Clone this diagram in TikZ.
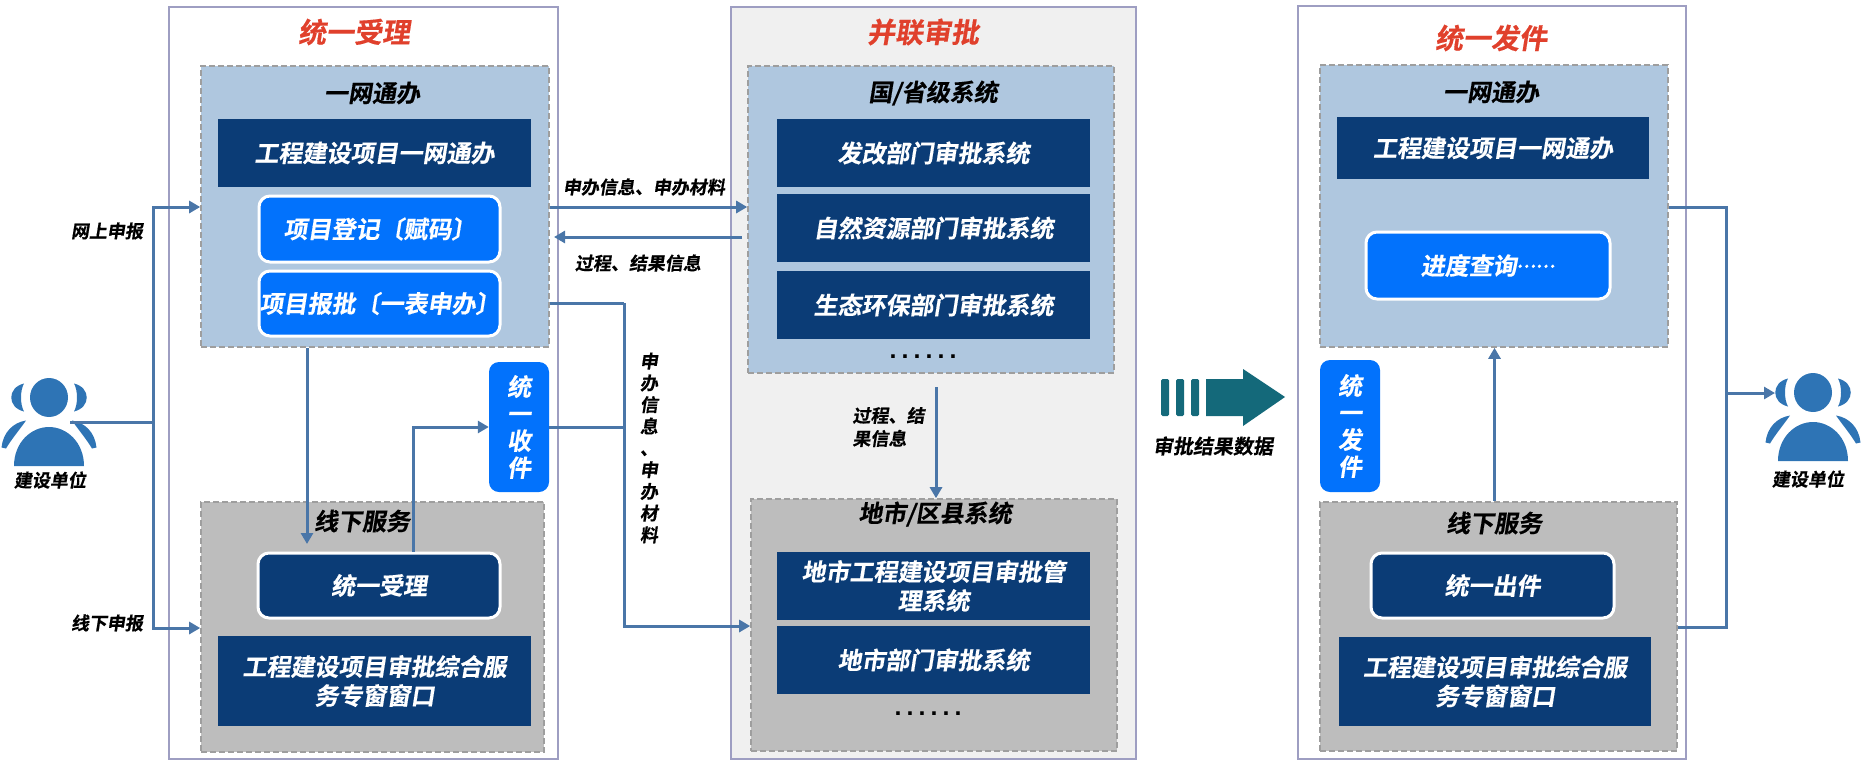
\documentclass[tikz,border=0pt]{standalone}
\usepackage{fontspec}
\usepackage{xcolor}
\setmainfont{Noto Sans CJK SC Bold}[FakeSlant=0.16,FakeBold=0.4]
\newfontfamily\dotfont{Liberation Sans}
\usetikzlibrary{arrows.meta}
\definecolor{titlered}{HTML}{E0402C}
\definecolor{navybox}{HTML}{0B3C76}
\definecolor{brightbox}{HTML}{0272FC}
\definecolor{panelblue}{HTML}{AFC7DF}
\definecolor{panelgrey}{HTML}{BDBDBD}
\definecolor{frameline}{HTML}{9E9EC2}
\definecolor{flowline}{HTML}{4A76A8}
\definecolor{userblue}{HTML}{2E74B5}
\definecolor{tealarrow}{HTML}{14697A}
\tikzset{
    basebox/.style={inner sep=0pt,align=center,text=white,font=\fontsize{24}{29}\selectfont},
    navy/.style={basebox,fill=navybox},
    navyround/.style={basebox,fill=navybox,draw=white,line width=3pt,rounded corners=11pt},
    brightround/.style={basebox,fill=brightbox,draw=white,line width=3pt,rounded corners=11pt},
    brightbar/.style={basebox,fill=brightbox,rounded corners=10pt,font=\fontsize{24}{27}\selectfont},
    frame/.style={draw=frameline,line width=2pt,inner sep=0pt},
    dashpanel/.style={draw=black!38,line width=1.6pt,dash pattern=on 6pt off 3pt,inner sep=0pt},
    headtext/.style={inner sep=0pt,font=\fontsize{24}{26}\selectfont},
    titletext/.style={inner sep=0pt,text=titlered,font=\fontsize{28}{30}\selectfont},
    smalltext/.style={inner sep=0pt,align=left,font=\fontsize{18}{23}\selectfont},
    resulttext/.style={inner sep=0pt,font=\fontsize{20}{23}\selectfont},
    dotstext/.style={inner sep=0pt,anchor=base,font=\dotfont\bfseries\fontsize{25}{26}\selectfont},
    flow/.style={draw=flowline,line width=3pt,-{Triangle[length=11pt,width=12pt]}},
    flowplain/.style={draw=flowline,line width=3pt},
    person/.pic={
        \fill[userblue] (0,0) ellipse (19 and 19.5);
        \foreach \s in {-1,1} {
            \fill[userblue] (\s*25,-14) .. controls (\s*42,-10) and (\s*42,10) .. (\s*25,14)
                .. controls (\s*29,7) and (\s*29,-7) .. (\s*25,-14);
            \fill[userblue] (\s*47.5,50) .. controls (\s*46,35) and (\s*36,25) .. (\s*23,23)
                .. controls (\s*30,33) and (\s*37,41) .. (\s*43,51) -- cycle;
        }
        \fill[userblue] (-35,68.5) .. controls (-35,45) and (-18,29.5) .. (0,29.5)
            .. controls (18,29.5) and (35,45) .. (35,68.5) -- cycle;
    }
}
\begin{document}
\begin{tikzpicture}[x=1pt,y=-1pt]
\useasboundingbox (0,0) rectangle (1864,764);
% Outer frames
\node[frame,minimum width=389pt,minimum height=752pt] (frameAccept) at (363.5,383) {};
\node[frame,fill=black!6,minimum width=405pt,minimum height=752pt] (frameApprove) at (933.5,383) {};
\node[frame,minimum width=388pt,minimum height=753pt] (frameIssue) at (1492,382.5) {};
\node[titletext] (titleAccept) at (354,32) {统一受理};
\node[titletext] (titleApprove) at (923,32) {并联审批};
\node[titletext] (titleIssue) at (1491,38) {统一发件};

% Dashed panels
\foreach \name/\col/\x/\y/\w/\h in {
    portalL/panelblue/375/206.5/348/281,
    counterL/panelgrey/372.5/627/343/250,
    stateP/panelblue/931/219.5/366/307,
    cityP/panelgrey/934/625/366/252,
    portalR/panelblue/1494/206/348/282,
    counterR/panelgrey/1498.5/626.5/357/249} {
    \node[dashpanel,fill=\col,minimum width=\w pt,minimum height=\h pt] (\name) at (\x,\y) {};
}

% Panel headings
\foreach \name/\x/\y/\txt in {
    headPortalL/372/93/一网通办,
    headCounterL/362/521/线下服务,
    headState/933/93/{国/省级系统},
    headCity/935/514/{地市/区县系统},
    headPortalR/1491/92/一网通办,
    headCounterR/1494/523/线下服务} {
    \node[headtext] (\name) at (\x,\y) {\txt};
}

% Square dark boxes
\foreach \name/\x/\y/\w/\h/\txt in {
    gcwbL/374.5/153/313/68/工程建设项目一网通办,
    windowL/374.5/681/313/90/工程建设项目审批综合服\\务专窗窗口,
    devDept/933.5/153/313/68/发改部门审批系统,
    natureDept/933.5/228/313/68/自然资源部门审批系统,
    ecoDept/933.5/305/313/68/生态环保部门审批系统,
    cityMain/933.5/586/313/68/地市工程建设项目审批管\\理系统,
    cityDept/933.5/660/313/68/地市部门审批系统,
    gcwbR/1493/148/312/62/工程建设项目一网通办,
    windowR/1495/681.5/312/89/工程建设项目审批综合服\\务专窗窗口} {
    \node[navy,minimum width=\w pt,minimum height=\h pt] (\name) at (\x,\y) {\txt};
}

% Rounded boxes
\node[brightround,minimum width=241pt,minimum height=66pt] (register) at (379.5,229) {项目登记〔赋码〕};
\node[brightround,minimum width=241pt,minimum height=65pt] (report) at (379.5,303.5) {项目报批〔一表申办〕};
\node[brightround,minimum width=244pt,minimum height=67pt] (query) at (1488,265.5) {进度查询\raisebox{7pt}{\fontsize{17.5}{18}\selectfont ……}};
\node[navyround,minimum width=242pt,minimum height=65pt] (accept) at (379,585.5) {统一受理};
\node[navyround,minimum width=243pt,minimum height=65pt] (issue) at (1492.5,585.5) {统一出件};
\node[brightbar,minimum width=60pt,minimum height=130pt] (receive) at (519,427) {统\\一\\收\\件};
\node[brightbar,minimum width=60pt,minimum height=132pt] (send) at (1350,426) {统\\一\\发\\件};

% Dots
\node[dotstext] (dotsState) at (923,358) {.\hspace{5.05pt}.\hspace{5.05pt}.\hspace{5.05pt}.\hspace{5.05pt}.\hspace{5.05pt}.};
\node[dotstext] (dotsCity) at (928,715) {.\hspace{5.05pt}.\hspace{5.05pt}.\hspace{5.05pt}.\hspace{5.05pt}.\hspace{5.05pt}.};

% Users
\pic at (49,397.5) {person};
\pic at (1813,392.5) {person};
\node[smalltext] (userL) at (50,480) {建设单位};
\node[smalltext] (userR) at (1808,479) {建设单位};

% Result arrow
\foreach \x in {1161,1176,1191} {
    \fill[tealarrow,rounded corners=1.5pt] (\x,379) rectangle (\x+8,416);
}
\fill[tealarrow] (1206,379) -- (1243,379) -- (1243,369) -- (1285,397) -- (1243,426) -- (1243,416) -- (1206,416) -- cycle;
\node[resulttext] (resultText) at (1213,446) {审批结果数据};

% Link labels
\node[smalltext] (onlineText) at (107,231) {网上申报};
\node[smalltext] (offlineText) at (107,623) {线下申报};
\node[smalltext] (sendText) at (644,187) {申办信息、申办材料};
\node[smalltext] (backText) at (638,263) {过程、结果信息};
\node[smalltext] (downText) at (888.5,427) {过程、结\\果信息};
\node[smalltext,align=center,font=\fontsize{18}{21.7}\selectfont] (sideText) at (649,448)
    {申\\办\\信\\息\\、\\申\\办\\材\\料};

% Links, left side
\coordinate (userOut) at (70,422);
\coordinate (fork) at (153,422);
\draw[flowplain] (userOut) -- (fork);
\draw[flow] (fork) |- (portalL.west |- 0,207);
\draw[flow] (fork) |- (counterL.west |- 0,628);

% Links, first frame
\draw[flow] (307,0 |- portalL.south) -- (307,544);
\draw[flow] (413,0 |- accept.north) |- (receive.west);

% Links, between frames
\coordinate (turn) at (624,303);
\draw[flow] (portalL.east |- 0,207) -- (stateP.west |- 0,207);
\draw[flow] (742,237) -- (554,237);
\draw[flowplain] (portalL.east |- turn) -- (turn);
\draw[flow] (turn) |- (cityP.west |- 0,626);
\draw[flowplain] (receive.east) -- (turn |- receive.east);
\draw[flow] (936,387) -- (936,0 |- cityP.north);

% Links, last frame
\coordinate (mergeR) at (1726,393);
\draw[flow] (1494.5,0 |- counterR.north) -- (1494.5,0 |- portalR.south);
\draw[flowplain] (portalR.east |- 0,207) -| (mergeR);
\draw[flowplain] (counterR.east |- 0,627) -| (mergeR);
\draw[flow] (mergeR) -- (1775,393);
\end{tikzpicture}
\end{document}
